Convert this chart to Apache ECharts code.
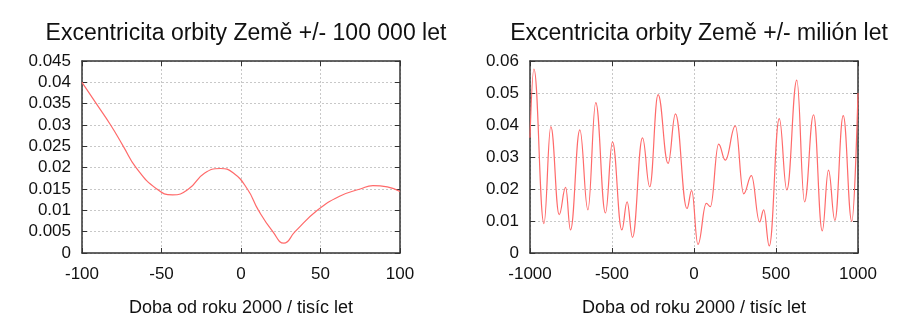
<!DOCTYPE html>
<html>
<head>
<meta charset="utf-8">
<script src="https://cdn.jsdelivr.net/npm/echarts@6/dist/echarts.min.js"></script>
<style>
html,body{margin:0;padding:0;background:#fff;}
#c{width:920px;height:322px;}
</style>
</head>
<body>
<div id="c"></div>
<script>
// Left panel: +/- 100 000 years (x in thousands of years)
const leftTitle = 'Excentricita orbity Země +/- 100 000 let';
const leftX = [-100, -91, -82, -74, -66, -53, -43, -33, -23, -13, -5, 4, 11, 20, 27, 34, 48, 62, 75, 83, 92, 100];
const leftY = [0.0400, 0.0350, 0.0300, 0.0250, 0.0200, 0.0150, 0.0136, 0.0150, 0.0187, 0.0198, 0.0188, 0.0150, 0.0100, 0.0050, 0.0023, 0.0050, 0.0100, 0.0133, 0.0150, 0.0158, 0.0155, 0.0144];

// Right panel: +/- 1 000 000 years (local extrema)
const rightTitle = 'Excentricita orbity Země +/- milión let';
const rightX = [-1000, -976, -915, -873, -822, -783, -753, -696, -647, -599, -540, -497, -440, -408, -375, -314, -270, -219, -158, -113, -43, -14, 24, 75, 100, 150, 191, 252, 303, 350, 400, 425, 459, 520, 566, 627, 674, 729, 782, 820, 859, 910, 962, 1000];
const rightY = [0.036, 0.0575, 0.0092, 0.0395, 0.0120, 0.0205, 0.0072, 0.0385, 0.0135, 0.0470, 0.0125, 0.0347, 0.0072, 0.0160, 0.0049, 0.0360, 0.0207, 0.0495, 0.0280, 0.0435, 0.0139, 0.0195, 0.0027, 0.0155, 0.0145, 0.0340, 0.0290, 0.0397, 0.0185, 0.0242, 0.0097, 0.0135, 0.0022, 0.0420, 0.0197, 0.0540, 0.0160, 0.0432, 0.0069, 0.0259, 0.0102, 0.0429, 0.0099, 0.0500];

const xAxisName = 'Doba od roku 2000 / tisíc let';

const FONT = '"Liberation Sans", Arial, sans-serif';
const lineColor = '#ff6a6a';
const frame = {show: true, onZero: false, lineStyle: {color: '#333', width: 1.5}};
const tick = {show: true, inside: true, length: 5, lineStyle: {color: '#333'}};
const grid = {show: true, lineStyle: {color: '#c8c8c8', type: [2, 2], width: 1}};
const labelStyle = {color: '#111', fontSize: 17, fontFamily: FONT, formatter: v => String(v)};

function xMain(gi, min, max, interval) {
  return {type: 'value', gridIndex: gi, min, max, interval, position: 'bottom',
    axisLine: frame, axisTick: tick, splitLine: grid,
    axisLabel: Object.assign({margin: 13}, labelStyle),
    name: xAxisName, nameLocation: 'middle', nameGap: 46,
    nameTextStyle: {color: '#111', fontSize: 18, fontFamily: FONT}};
}
function xMirror(gi, min, max, interval) {
  return {type: 'value', gridIndex: gi, min, max, interval, position: 'top',
    axisLine: frame, axisTick: tick, splitLine: {show: false}, axisLabel: {show: false}};
}
function yMain(gi, max, interval) {
  return {type: 'value', gridIndex: gi, min: 0, max, interval, position: 'left',
    axisLine: frame, axisTick: tick, splitLine: grid,
    axisLabel: Object.assign({margin: 11}, labelStyle)};
}
function yMirror(gi, max, interval) {
  return {type: 'value', gridIndex: gi, min: 0, max, interval, position: 'right',
    axisLine: frame, axisTick: tick, splitLine: {show: false}, axisLabel: {show: false}};
}

const chart = echarts.init(document.getElementById('c'), null, {renderer: 'canvas'});
chart.setOption({
  animation: false,
  backgroundColor: '#fff',
  title: [
    {text: leftTitle, left: 241, top: 17, textAlign: 'center',
     textStyle: {fontSize: 23, fontWeight: 'normal', color: '#111', fontFamily: FONT}},
    {text: rightTitle, left: 694, top: 17, textAlign: 'center',
     textStyle: {fontSize: 23, fontWeight: 'normal', color: '#111', fontFamily: FONT}}
  ],
  grid: [
    {left: 82, right: 520, top: 61, bottom: 62},
    {left: 530, right: 62, top: 61, bottom: 62}
  ],
  xAxis: [
    xMain(0, -100, 100, 50), xMirror(0, -100, 100, 50),
    xMain(1, -1000, 1000, 500), xMirror(1, -1000, 1000, 500)
  ],
  yAxis: [
    yMain(0, 0.045, 0.005), yMirror(0, 0.045, 0.005),
    yMain(1, 0.06, 0.01), yMirror(1, 0.06, 0.01)
  ],
  series: [
    {type: 'line', xAxisIndex: 0, yAxisIndex: 0, showSymbol: false, smooth: 0.5,
     lineStyle: {color: lineColor, width: 1.2},
     data: leftX.map((x, i) => [x, leftY[i]])},
    {type: 'line', xAxisIndex: 2, yAxisIndex: 2, showSymbol: false, smooth: 0.43, smoothMonotone: 'x',
     lineStyle: {color: lineColor, width: 1.2},
     data: rightX.map((x, i) => [x, rightY[i]])}
  ]
});
</script>
</body>
</html>
